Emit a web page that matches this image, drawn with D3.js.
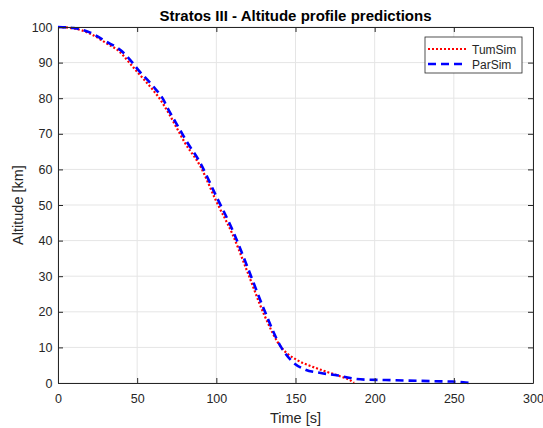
<!DOCTYPE html>
<meta charset="utf-8">
<style>
body { margin: 0; background: #fff; }
text { font-family: "Liberation Sans", Arial, sans-serif; fill: #262626; }
.grid line { stroke: #e5e5e5; stroke-width: 1px; }
.tick text { font-size: 12.5px; }
</style>
<body>
<script src="https://d3js.org/d3.v7.min.js"></script>
<script>
var width = 543, height = 428;
var margin = {top: 27, right: 10, bottom: 45, left: 58};

var xTicks = [0, 50, 100, 150, 200, 250, 300];
var yTicks = [0, 10, 20, 30, 40, 50, 60, 70, 80, 90, 100];

// TumSim: time [s], altitude [km]
var tumTime = [0, 10, 20, 30, 40, 45, 50, 60, 64, 70, 77, 80, 90, 100, 110, 120, 130, 141, 145, 150, 160, 170, 180, 184, 187];
var tumAlt  = [100, 99.6, 98.2, 95.6, 92.6, 90, 87.4, 82.3, 80, 75.7, 70, 67.6, 60.8, 51, 42, 30.8, 19.4, 10, 8.2, 6.7, 4.7, 3.1, 1.6, 0.9, 0];

// ParSim: time [s], altitude [km]
var parTime = [0, 10, 20, 30, 40, 47, 50, 60, 66, 70, 78.5, 80, 90, 100, 110, 120, 130, 141, 148, 156, 166, 177, 187, 197, 207, 218, 228, 238, 249, 256, 260];
var parAlt  = [100, 99.7, 98.5, 96, 93.3, 90, 88.3, 83.4, 80, 76.6, 70, 68.8, 61.7, 52.4, 43.2, 32.2, 20.8, 10, 6, 3.8, 2.8, 2.1, 1.2, 0.9, 0.85, 0.7, 0.6, 0.5, 0.4, 0.2, 0];

var svg = d3.select("body").append("svg")
    .attr("width", width)
    .attr("height", height);

var x = d3.scaleLinear().domain([0, 300]).range([margin.left, width - margin.right]);
var y = d3.scaleLinear().domain([0, 100]).range([height - margin.bottom, margin.top]);

// grid
var grid = svg.append("g").attr("class", "grid");
grid.selectAll("line.v").data(xTicks).enter().append("line")
    .attr("class", "v")
    .attr("x1", function(d) { return x(d); }).attr("x2", function(d) { return x(d); })
    .attr("y1", y(0)).attr("y2", y(100));
grid.selectAll("line.h").data(yTicks).enter().append("line")
    .attr("class", "h")
    .attr("x1", x(0)).attr("x2", x(300))
    .attr("y1", function(d) { return y(d); }).attr("y2", function(d) { return y(d); });

var line = d3.line()
    .x(function(d) { return x(d[0]); })
    .y(function(d) { return y(d[1]); })
    .curve(d3.curveMonotoneX);

var tum = tumTime.map(function(t, i) { return [t, tumAlt[i]]; });
var par = parTime.map(function(t, i) { return [t, parAlt[i]]; });

svg.append("path").datum(tum)
    .attr("d", line)
    .attr("fill", "none")
    .attr("stroke", "#ff0000")
    .attr("stroke-width", 2.2)
    .attr("stroke-dasharray", "2,2");

svg.append("path").datum(par)
    .attr("d", line)
    .attr("fill", "none")
    .attr("stroke", "#0000ff")
    .attr("stroke-width", 2.6)
    .attr("stroke-dasharray", "8,5");

// axes (box with inward ticks)
svg.append("g")
    .attr("transform", "translate(0," + y(0) + ")")
    .call(d3.axisBottom(x).tickValues(xTicks).tickSizeInner(-5).tickSizeOuter(0).tickPadding(11));
svg.append("g")
    .attr("transform", "translate(0," + y(100) + ")")
    .call(d3.axisTop(x).tickValues(xTicks).tickSizeInner(-5).tickSizeOuter(0).tickFormat(""));
svg.append("g")
    .attr("transform", "translate(" + x(0) + ",0)")
    .call(d3.axisLeft(y).tickValues(yTicks).tickSizeInner(-5).tickSizeOuter(0).tickPadding(5.5));
svg.append("g")
    .attr("transform", "translate(" + x(300) + ",0)")
    .call(d3.axisRight(y).tickValues(yTicks).tickSizeInner(-5).tickSizeOuter(0).tickFormat(""));

svg.selectAll(".domain, .tick line").attr("stroke", "#262626");
svg.selectAll(".tick text").attr("fill", "#262626");

// labels
svg.append("text")
    .attr("x", (x(0) + x(300)) / 2).attr("y", 20.5)
    .attr("text-anchor", "middle")
    .style("font-size", "15px").style("font-weight", "bold")
    .style("fill", "#000")
    .text("Stratos III - Altitude profile predictions");

svg.append("text")
    .attr("x", (x(0) + x(300)) / 2).attr("y", 423)
    .attr("text-anchor", "middle")
    .style("font-size", "14.5px")
    .text("Time [s]");

svg.append("text")
    .attr("transform", "translate(23," + ((y(0) + y(100)) / 2) + ")rotate(-90)")
    .attr("text-anchor", "middle")
    .style("font-size", "14.5px")
    .text("Altitude [km]");

// legend
var legend = svg.append("g").attr("transform", "translate(425,37)");
legend.append("rect")
    .attr("width", 97).attr("height", 36)
    .attr("fill", "#fff").attr("stroke", "#262626").attr("stroke-width", 0.8);
var names = ["TumSim", "ParSim"];
var colors = ["#ff0000", "#0000ff"];
var dashes = ["2,2", "8,5"];
var widths = [2.2, 2.6];
names.forEach(function(n, i) {
  var ly = 12 + i * 15;
  legend.append("line")
      .attr("x1", 3).attr("x2", 42).attr("y1", ly).attr("y2", ly)
      .attr("stroke", colors[i]).attr("stroke-width", widths[i])
      .attr("stroke-dasharray", dashes[i]);
  legend.append("text")
      .attr("x", 47).attr("y", ly + 4.5)
      .style("font-size", "12px")
      .text(n);
});
</script>
